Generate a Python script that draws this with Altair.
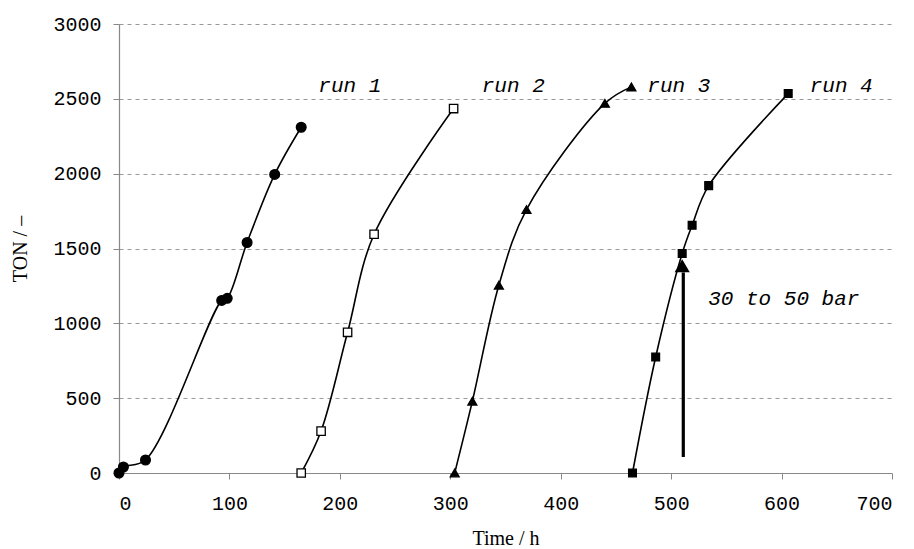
import altair as alt
import pandas as pd

# ---- data ----
run1_t = [0, 4, 24, 93, 98, 116, 141, 165]
run1_ton = [0, 40, 87, 1153, 1167, 1540, 1995, 2310]
run2_t = [165, 183, 207, 231, 303]
run2_ton = [0, 280, 940, 1595, 2435]
run3_t = [304, 320, 344, 369, 440, 464]
run3_ton = [0, 480, 1255, 1760, 2470, 2580]
run4_t = [465, 486, 510, 519, 534, 606]
run4_ton = [0, 775, 1467, 1655, 1920, 2535]

label_text = ["run 1", "run 2", "run 3", "run 4"]
label_t = [209, 357, 507, 654]
label_ton = [2587, 2587, 2587, 2587]

arrow_t = [511, 511]
arrow_ton = [107, 1340]
arrow_head_t = [510]
arrow_head_ton = [1385]
arrow_label = ["30 to 50 bar"]
arrow_label_t = [602]
arrow_label_ton = [1160]

x_ticks = [0, 100, 200, 300, 400, 500, 600, 700]
y_ticks = [0, 500, 1000, 1500, 2000, 2500, 3000]

MONO = "Liberation Mono"
SERIF = "Liberation Serif"

xs = alt.Scale(domain=[0, 700], nice=False)
ys = alt.Scale(domain=[0, 3000], nice=False)
xaxis = alt.Axis(values=x_ticks, grid=False, format="d")
yaxis = alt.Axis(values=y_ticks, grid=True, format="d")


def X():
    return alt.X("t:Q", scale=xs, title="Time / h", axis=xaxis)


def Y():
    return alt.Y("ton:Q", scale=ys, title="TON / \u2013", axis=yaxis)


layers = []
runs = [
    (run1_t, run1_ton, "circle", True, 95),
    (run2_t, run2_ton, "square", False, 70),
    (run3_t, run3_ton, "triangle-up", True, 80),
    (run4_t, run4_ton, "square", True, 60),
]
for t, ton, shape, filled, size in runs:
    df = pd.DataFrame({"t": t, "ton": ton})
    base = alt.Chart(df)
    line = base.mark_line(color="black", strokeWidth=1.6,
                          interpolate="catmull-rom").encode(x=X(), y=Y())
    pts = base.mark_point(shape=shape, filled=filled, size=size,
                          color="black", fill="black" if filled else "white",
                          stroke="black", strokeWidth=1.3, opacity=1).encode(
        x=X(), y=Y())
    layers += [line, pts]

lab_df = pd.DataFrame({"t": label_t, "ton": label_ton, "txt": label_text})
labels = alt.Chart(lab_df).mark_text(font=MONO, fontSize=21, fontStyle="italic",
                                     color="black").encode(
    x=X(), y=Y(), text="txt:N")

arrow_df = pd.DataFrame({"t": arrow_t, "ton": arrow_ton})
arrow = alt.Chart(arrow_df).mark_line(color="black", strokeWidth=3.2).encode(
    x=X(), y=Y())
head_df = pd.DataFrame({"t": arrow_head_t, "ton": arrow_head_ton})
head = alt.Chart(head_df).mark_point(shape="triangle-up", filled=True, size=230,
                                     color="black", opacity=1).encode(
    x=X(), y=Y())
al_df = pd.DataFrame({"t": arrow_label_t, "ton": arrow_label_ton, "txt": arrow_label})
alabel = alt.Chart(al_df).mark_text(font=MONO, fontSize=21, fontStyle="italic",
                                    color="black").encode(
    x=X(), y=Y(), text="txt:N")

chart = alt.layer(*layers, labels, arrow, head, alabel).properties(
    width=773, height=449,
    autosize="none",
    padding={"left": 111, "top": 16, "right": 14, "bottom": 76},
    background="white",
).configure_view(stroke=None).configure_axis(
    domainColor="#888888", domainWidth=1.2,
    tickColor="#888888", tickSize=6,
    labelFont=MONO, labelFontSize=20, labelColor="black",
    titleFont=SERIF, titleFontSize=20, titleFontWeight="normal", titleColor="black",
    gridColor="#999999", gridDash=[4, 4], gridWidth=1,
).configure_axisX(labelPadding=14, titlePadding=15
).configure_axisY(labelPadding=12, titlePadding=22)

chart.save("out.html", embed_options={"renderer": "svg", "actions": False})
